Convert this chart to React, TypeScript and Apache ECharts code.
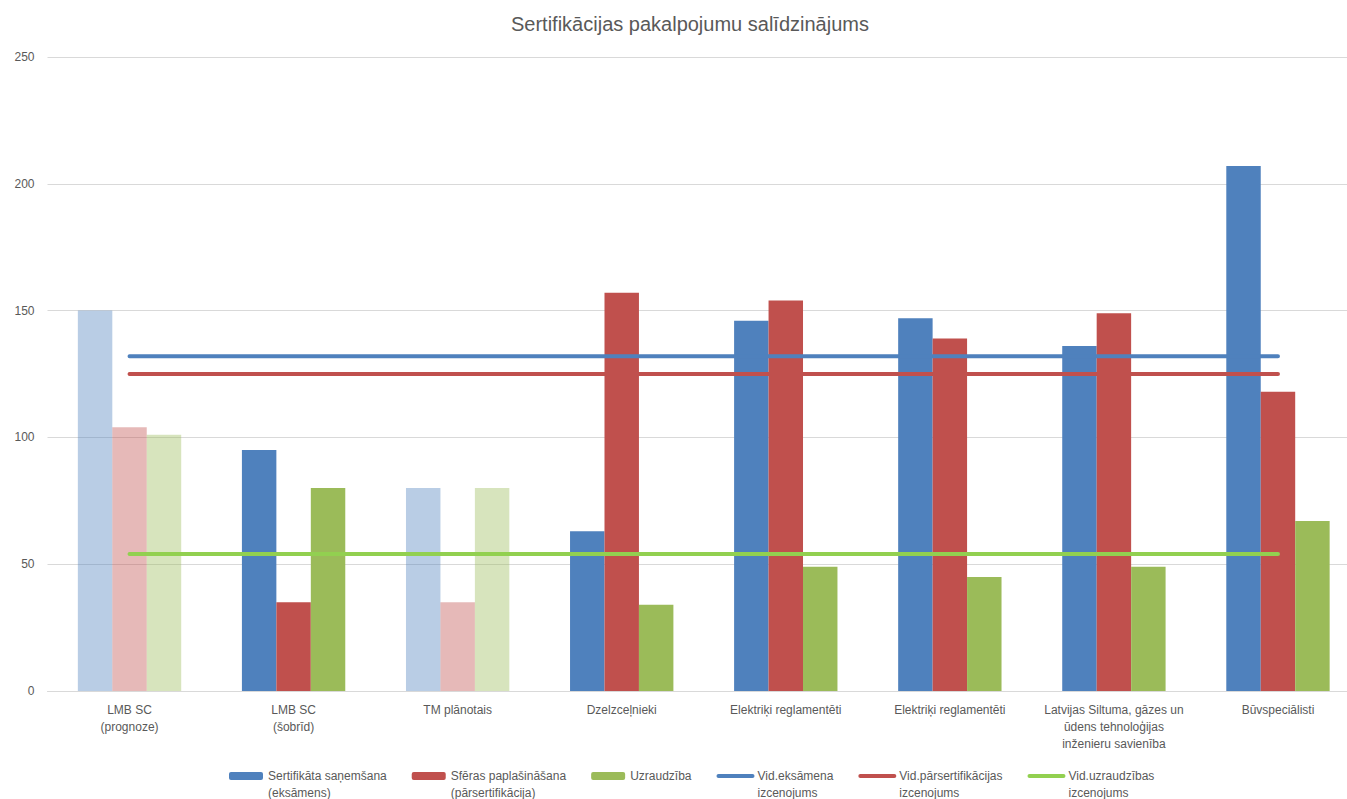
import React, { useEffect, useRef } from "react";
import * as echarts from "echarts";

const categories = [
  "LMB SC\n(prognoze)",
  "LMB SC\n(šobrīd)",
  "TM plānotais",
  "Dzelzceļnieki",
  "Elektriķi reglamentēti",
  "Elektriķi reglamentēti",
  "Latvijas Siltuma, gāzes un\nūdens tehnoloģijas\ninženieru savienība",
  "Būvspeciālisti",
];
const faded = [true, false, true, false, false, false, false, false];

const exam = [150, 95, 80, 63, 146, 147, 136, 207];
const recert = [104, 35, 35, 157, 154, 139, 149, 118];
const supervision = [101, 80, 80, 34, 49, 45, 49, 67];

const avgExam = [132, 132, 132, 132, 132, 132, 132, 132];
const avgRecert = [125, 125, 125, 125, 125, 125, 125, 125];
const avgSupervision = [54, 54, 54, 54, 54, 54, 54, 54];

const yTicks = { min: 0, max: 250, interval: 50 };

const names = [
  "Sertifikāta saņemšana\n(eksāmens)",
  "Sfēras paplašināšana\n(pārsertifikācija)",
  "Uzraudzība",
  "Vid.eksāmena\nizcenojums",
  "Vid.pārsertifikācijas\nizcenojums",
  "Vid.uzraudzības\nizcenojums",
];

const FONT = "Liberation Sans";
const TXT = "#595959";

function barData(values: number[]) {
  return values.map((v, i) => (faded[i] ? { value: v, itemStyle: { opacity: 0.4 } } : v));
}

export default function App() {
  const ref = useRef<HTMLDivElement>(null);
  useEffect(() => {
    if (!ref.current) return;
    const chart = echarts.init(ref.current, null, { renderer: "svg" });
    const lineSeries = (name: string, data: number[], color: string) => ({
      name,
      type: "line",
      data,
      symbol: "none",
      showSymbol: false,
      lineStyle: { color, width: 4, cap: "round" },
      itemStyle: { color },
      z: 5,
    });
    const legendData = names.map((n, i) =>
      i >= 3
        ? { name: n, itemStyle: { color: "transparent", borderColor: "transparent", borderWidth: 0 }, lineStyle: { width: 4, cap: "round" } }
        : { name: n }
    );
    chart.setOption({
      animation: false,
      textStyle: { fontFamily: FONT },
      title: {
        text: "Sertifikācijas pakalpojumu salīdzinājums",
        left: 506,
        top: 9,
        textStyle: { fontFamily: FONT, fontSize: 20, fontWeight: "normal", color: TXT },
      },
      grid: { left: 47.5, right: 0, top: 57, bottom: 108 },
      legend: {
        left: 224,
        top: 745.5,
        itemWidth: 34,
        itemHeight: 8,
        itemGap: 25,
        formatter: (n: string) => (n.indexOf("\n") >= 0 ? "\n" + n : n),
        textStyle: { fontFamily: FONT, fontSize: 12, color: TXT, lineHeight: 17 },
        data: legendData,
      },
      xAxis: {
        type: "category",
        data: categories,
        axisTick: { show: false },
        axisLine: { lineStyle: { color: "#D9D9D9" } },
        axisLabel: { interval: 0, color: TXT, fontSize: 12, lineHeight: 17, margin: 10, fontFamily: FONT },
      },
      yAxis: {
        type: "value",
        min: yTicks.min,
        max: yTicks.max,
        interval: yTicks.interval,
        axisLabel: { color: TXT, fontSize: 12, fontFamily: FONT, margin: 13 },
        splitLine: { lineStyle: { color: "#D9D9D9" } },
        axisLine: { show: false },
      },
      series: [
        { name: names[0], type: "bar", data: barData(exam), itemStyle: { color: "#4F81BD" }, barGap: "0%", barCategoryGap: "37%" },
        { name: names[1], type: "bar", data: barData(recert), itemStyle: { color: "#C0504D" } },
        { name: names[2], type: "bar", data: barData(supervision), itemStyle: { color: "#9BBB59" } },
        lineSeries(names[3], avgExam, "#4F81BD"),
        lineSeries(names[4], avgRecert, "#C0504D"),
        lineSeries(names[5], avgSupervision, "#92D050"),
      ],
    });
    return () => chart.dispose();
  }, []);
  return (
    <div style={{ position: "fixed", left: 0, top: 0, width: 1347, height: 799, overflow: "hidden", background: "#fff" }}>
      <div ref={ref} style={{ width: 1360, height: 799 }} />
    </div>
  );
}
